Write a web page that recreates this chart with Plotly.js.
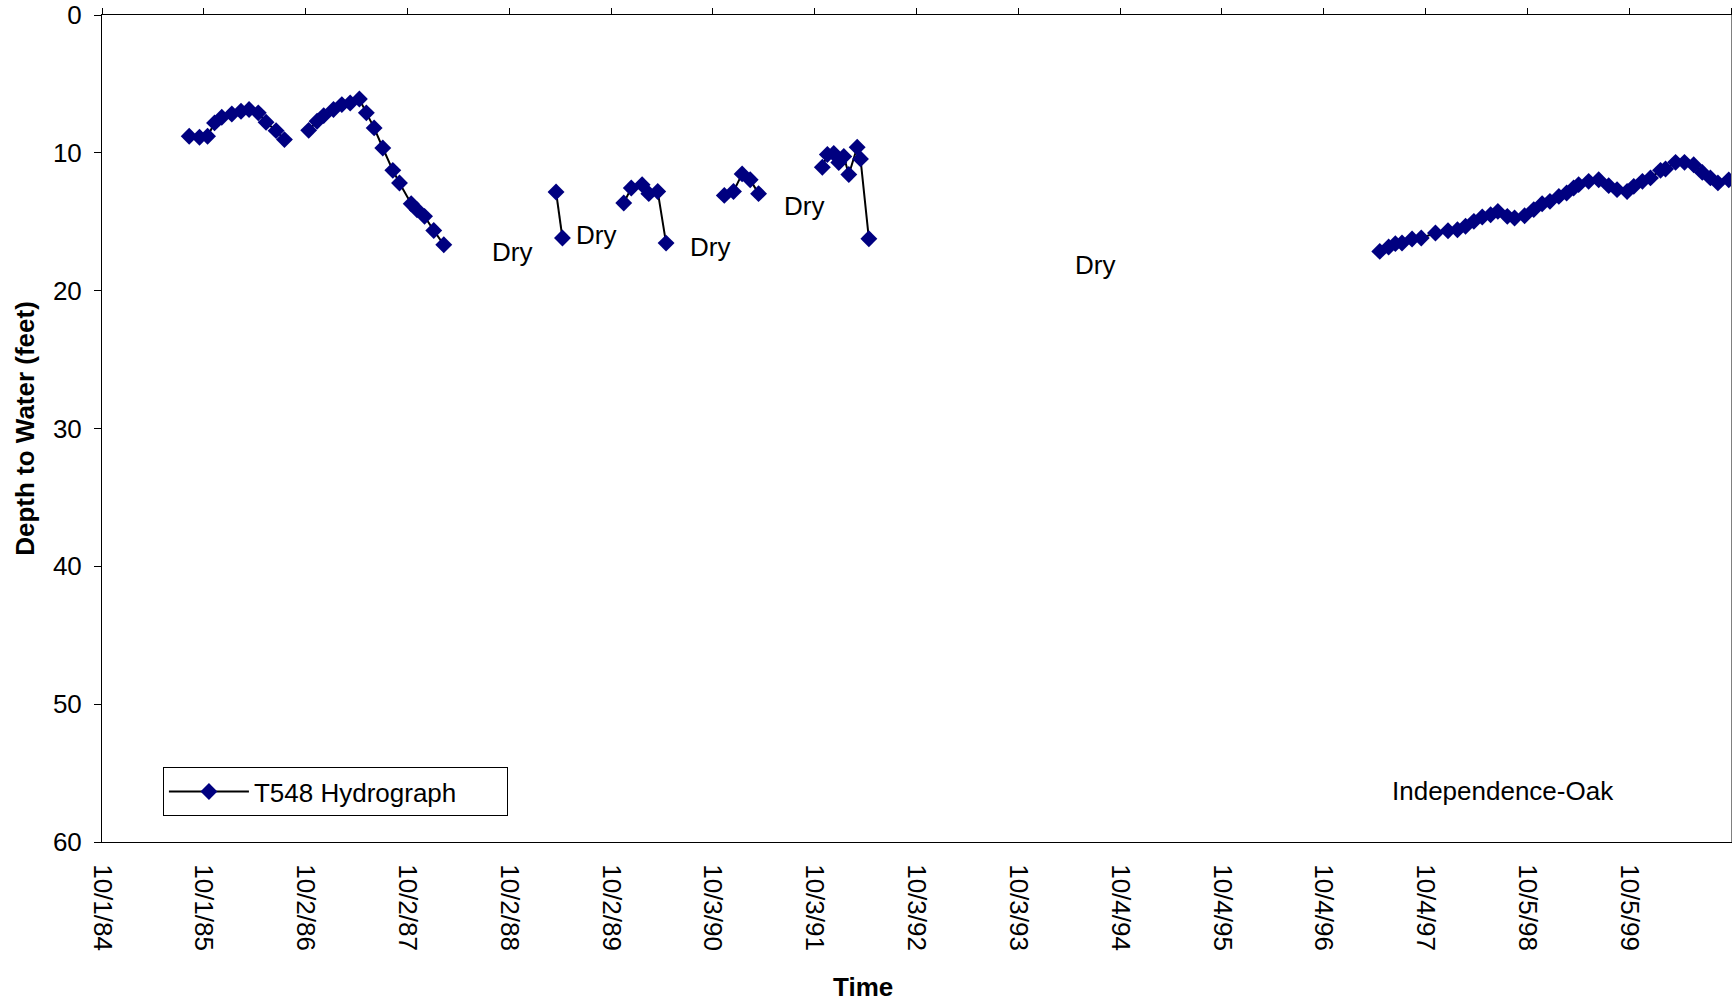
<!DOCTYPE html>
<html>
<head>
<meta charset="utf-8">
<script src="https://cdn.plot.ly/plotly-3.0.1.min.js"></script>
<style>
  html, body { margin: 0; padding: 0; background: #ffffff; }
  #chart { width: 1734px; height: 1003px; }
</style>
</head>
<body>
<div id="chart"></div>
<script>
const seriesName = "T548 Hydrograph";

// Measurement dates; null depth = dry period (breaks the line)
const dates = [
  "1985-08-10","1985-09-16","1985-10-15","1985-11-09","1985-12-05","1986-01-10",
  "1986-02-12","1986-03-13","1986-04-15","1986-05-13","1986-06-18","1986-07-18",
  "1986-09-01",
  "1986-10-13","1986-11-12","1986-12-06","1987-01-10","1987-02-09","1987-03-11",
  "1987-04-13","1987-05-08","1987-06-05","1987-07-06","1987-08-11","1987-09-04",
  "1987-10-16","1987-11-06","1987-12-03","1988-01-05","1988-02-10",
  "1988-06-01",
  "1989-03-19","1989-04-11",
  "1989-08-01",
  "1989-11-17","1989-12-14","1990-01-22","1990-02-15","1990-03-19","1990-04-18",
  "1990-08-01",
  "1990-11-13","1990-12-16","1991-01-16","1991-02-14","1991-03-16",
  "1991-07-01",
  "1991-10-31","1991-11-18","1991-12-11","1991-12-29","1992-01-16","1992-02-03",
  "1992-03-04","1992-03-16","1992-04-15",
  "1994-01-01",
  "1997-04-23","1997-05-25","1997-06-18","1997-07-12","1997-08-17","1997-09-19",
  "1997-11-09","1997-12-24","1998-01-27","1998-02-25","1998-03-27","1998-04-26",
  "1998-05-26","1998-06-21","1998-07-25","1998-08-20","1998-09-25","1998-10-28",
  "1998-11-27","1998-12-25","1999-01-26","1999-02-23","1999-03-20","1999-04-07",
  "1999-05-13","1999-06-18","1999-07-24","1999-08-23","1999-09-28","1999-10-22",
  "1999-11-22","1999-12-21","2000-01-26","2000-02-13","2000-03-20","2000-04-21",
  "2000-05-24","2000-06-24","2000-07-23","2000-08-19","2000-09-27"
];

// Depth to water (feet)
const depthFeet = [
  8.80, 8.87, 8.80, 7.83, 7.42, 7.18,
  6.98, 6.86, 7.10, 7.78, 8.39, 9.04,
  null,
  8.37, 7.71, 7.30, 6.86, 6.50, 6.38,
  6.09, 7.10, 8.19, 9.65, 11.27, 12.19,
  13.69, 14.13, 14.61, 15.63, 16.67,
  null,
  12.84, 16.18,
  null,
  13.64, 12.55, 12.31, 12.96, 12.80, 16.55,
  null,
  13.09, 12.80, 11.53, 11.95, 12.96,
  null,
  11.05, 10.12, 10.05, 10.70, 10.27, 11.57,
  9.60, 10.44, 16.23,
  null,
  17.15, 16.83, 16.59, 16.54, 16.25, 16.18,
  15.82, 15.65, 15.58, 15.33, 14.97, 14.65,
  14.49, 14.25, 14.61, 14.73, 14.56, 14.12,
  13.69, 13.52, 13.16, 12.91, 12.55, 12.31,
  12.07, 11.95, 12.38, 12.67, 12.80, 12.43,
  12.07, 11.82, 11.27, 11.17, 10.69, 10.69,
  10.86, 11.42, 11.82, 12.18, 11.96
];

// "Dry" labels (date, depth)
const dryLabelDates = ["1988-10-13","1989-08-11","1990-09-24","1991-08-27","1994-07-07"];
const dryLabelDepths = [17.19, 15.98, 16.86, 13.89, 18.15];
const dryLabelText = "Dry";

const siteName = "Independence-Oak";
const siteDate = "1998-07-11";
const siteDepth = 56.3;

// Axis settings
const xStart = "1984-10-01";
const xEnd = "2000-10-05";
const xStepDays = 365.5;
const yMax = 60;
const yStep = 10;

const xTitle = "Time";
const yTitle = "Depth to Water (feet)";

// ---- Chart ----
const FONT = "'Liberation Sans', Arial, sans-serif";
const NARROW = "'Liberation Sans Narrow', 'Arial Narrow', 'Liberation Sans', Arial, sans-serif";
const DAY = 86400000;

const traces = [
  {
    type: "scatter",
    mode: "lines+markers",
    name: seriesName,
    x: dates,
    y: depthFeet,
    connectgaps: false,
    line: { color: "#000000", width: 2 },
    marker: { symbol: "diamond", color: "#000080", size: 13 },
    xaxis: "x",
    yaxis: "y"
  },
  {
    type: "scatter",
    mode: "markers",
    x: [],
    y: [],
    showlegend: false,
    hoverinfo: "skip",
    xaxis: "x2",
    yaxis: "y2"
  }
];

const annotations = dryLabelDates.map((d, i) => ({
  x: d, y: dryLabelDepths[i], xref: "x", yref: "y",
  text: dryLabelText, showarrow: false,
  xanchor: "center", yanchor: "middle",
  font: { family: FONT, size: 26, color: "#000000" }
}));
annotations.push({
  x: siteDate, y: siteDepth, xref: "x", yref: "y",
  text: siteName, showarrow: false,
  xanchor: "center", yanchor: "middle",
  font: { family: FONT, size: 26, color: "#000000" }
});
annotations.push({
  x: 0.467, y: -0.1754, xref: "paper", yref: "paper",
  text: xTitle, showarrow: false,
  xanchor: "center", yanchor: "middle",
  font: { family: FONT, size: 26, color: "#000000", weight: "bold" }
});

const layout = {
  width: 1734,
  height: 1003,
  paper_bgcolor: "#ffffff",
  plot_bgcolor: "#ffffff",
  margin: { l: 102, r: 3, t: 15, b: 161, pad: 0 },
  font: { family: FONT, size: 26, color: "#000000" },
  showlegend: true,
  legend: {
    x: 0.0374, y: 0.0905, xanchor: "left", yanchor: "top",
    orientation: "h",
    entrywidth: 248,
    entrywidthmode: "pixels",
    bgcolor: "#ffffff", bordercolor: "#000000", borderwidth: 1,
    font: { family: FONT, size: 26, color: "#000000" },
    itemwidth: 80
  },
  xaxis: {
    type: "date",
    range: [xStart, xEnd],
    tick0: xStart,
    dtick: xStepDays * DAY,
    tickformat: "%-m/%-d/%y",
    tickangle: 90,
    ticks: "",
    ticklabelstandoff: 16,
    tickfont: { family: NARROW, size: 26, color: "#000000" },
    showline: true, linecolor: "#000000", linewidth: 1,
    showgrid: false, zeroline: false,
    fixedrange: true
  },
  xaxis2: {
    type: "date",
    overlaying: "x",
    anchor: "y2",
    side: "top",
    range: [xStart, xEnd],
    tick0: xStart,
    dtick: xStepDays * DAY,
    ticks: "outside", ticklen: 6, tickwidth: 1, tickcolor: "#000000",
    showticklabels: false,
    showline: true, linecolor: "#000000", linewidth: 1,
    showgrid: false, zeroline: false
  },
  yaxis: {
    range: [yMax, 0],
    tick0: 0,
    dtick: yStep,
    ticks: "outside", ticklen: 7, tickwidth: 1, tickcolor: "#000000",
    ticklabelstandoff: 7,
    tickfont: { family: FONT, size: 26, color: "#000000" },
    showline: true, linecolor: "#000000", linewidth: 1,
    showgrid: false, zeroline: false,
    title: { text: yTitle, standoff: 10, font: { family: FONT, size: 26, color: "#000000", weight: "bold" } }
  },
  yaxis2: {
    overlaying: "y",
    anchor: "x2",
    side: "right",
    range: [yMax, 0],
    ticks: "",
    showticklabels: false,
    showline: true, linecolor: "#808080", linewidth: 1,
    showgrid: false, zeroline: false
  },
  annotations: annotations
};

Plotly.newPlot("chart", traces, layout, { displayModeBar: false, staticPlot: true });
</script>
</body>
</html>
